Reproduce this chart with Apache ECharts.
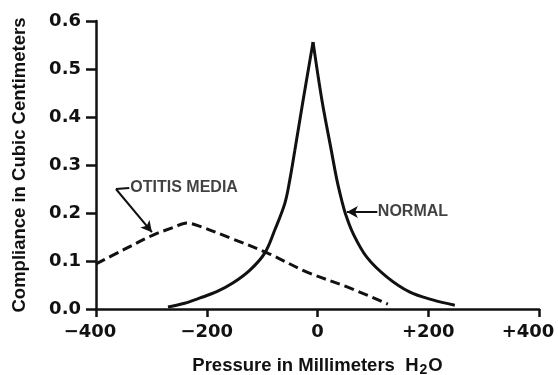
<!DOCTYPE html>
<html>
<head>
<meta charset="utf-8">
<script src="https://cdn.jsdelivr.net/npm/echarts@6/dist/echarts.min.js"></script>
<style>
html, body { margin: 0; padding: 0; background: #fff; }
#chartImg { width: 558px; height: 375px; }
</style>
</head>
<body>
<div id="chartImg"></div>
<script>
// pressure (mm H2O), compliance (cc)
var normalCurve = [
    [-270, 0.004], [-240, 0.012], [-212, 0.023], [-182, 0.036], [-153, 0.054],
    [-122, 0.081], [-95, 0.117], [-77, 0.165], [-59, 0.220], [-50, 0.269],
    [-41, 0.330], [-26, 0.435], [-8, 0.556],
    [8, 0.435], [25, 0.330], [35, 0.269], [44, 0.225], [50, 0.200],
    [64, 0.158], [89, 0.108], [125, 0.067], [167, 0.035], [208, 0.019], [248, 0.008]
];
var otitisCurve = [
    [-400, 0.094], [-351, 0.123], [-297, 0.154], [-260, 0.170], [-236, 0.179],
    [-212, 0.172], [-158, 0.148], [-91, 0.117], [-19, 0.077], [58, 0.044], [127, 0.010]
];
var peakIndex = 12;
var xTicks = [-400, -200, 0, 200, 400];
var yTicks = [0, 0.1, 0.2, 0.3, 0.4, 0.5, 0.6];
var labels = [[-338, 0.252, 'OTITIS MEDIA'], [109, 0.202, 'NORMAL']];
var otitisLeader = [[-364, 0.25], [-299, 0.16], [-340, 0.252]];
var normalArrow = [[108, 0.202], [53, 0.202]];

var ink = '#111';
var tickFont = { fontFamily: 'DejaVu Sans', fontWeight: 'bold', fontSize: 18, color: ink };
var titleFont = { fontFamily: 'Liberation Sans', fontWeight: 'bold', fontSize: 18.5, color: ink };

var myChart = echarts.init(document.getElementById('chartImg'));
var option = {
    animation: false,
    backgroundColor: '#fff',
    grid: { left: 96, right: 19, top: 21, bottom: 66, containLabel: false, outerBoundsMode: 'none' },
    xAxis: {
        type: 'value',
        min: xTicks[0],
        max: xTicks[xTicks.length - 1],
        interval: 200,
        name: '{t|Pressure in Millimeters  H}{s|2}{t|O}',
        nameLocation: 'middle',
        nameGap: 46,
        nameTextStyle: {
            rich: {
                t: titleFont,
                s: { fontFamily: 'Liberation Sans', fontWeight: 'bold', fontSize: 14, color: ink, padding: [8, 1, 0, 1] }
            }
        },
        axisLine: { onZero: false, lineStyle: { color: ink, width: 2.5 } },
        axisTick: { length: 8, lineStyle: { color: ink, width: 2.5 } },
        splitLine: { show: false },
        axisLabel: Object.assign({
            margin: 14,
            formatter: function (v) {
                if (v === xTicks[xTicks.length - 1]) return '{e|+' + v + '}';
                if (v === xTicks[0]) return '{b|\u2212' + (-v) + '}';
                if (v > 0) return '+' + v;
                if (v < 0) return '\u2212' + (-v);
                return '0';
            },
            rich: {
                e: Object.assign({ padding: [0, 22, 0, 0] }, tickFont),
                b: Object.assign({ padding: [0, 12, 0, 0] }, tickFont)
            }
        }, tickFont)
    },
    yAxis: {
        type: 'value',
        min: yTicks[0],
        max: yTicks[yTicks.length - 1],
        interval: 0.1,
        name: 'Compliance in Cubic Centimeters',
        nameLocation: 'middle',
        nameGap: 67,
        nameTextStyle: titleFont,
        axisLine: { show: true, onZero: false, lineStyle: { color: ink, width: 2.5 } },
        axisTick: { show: true, length: 10, lineStyle: { color: ink, width: 2.5 } },
        splitLine: { show: false },
        axisLabel: Object.assign({
            margin: 15,
            formatter: function (v) { return v.toFixed(1); }
        }, tickFont)
    },
    series: [
        {
            type: 'line',
            data: normalCurve.slice(0, peakIndex + 1),
            smooth: 0.35,
            symbol: 'none',
            lineStyle: { color: ink, width: 3 }
        },
        {
            type: 'line',
            data: normalCurve.slice(peakIndex),
            smooth: 0.35,
            symbol: 'none',
            lineStyle: { color: ink, width: 3 },
            markLine: {
                silent: true,
                symbolSize: [9, 11],
                label: { show: false },
                lineStyle: { color: ink, width: 2, type: 'solid' },
                data: [
                    [{ coord: normalArrow[0], symbol: 'none' }, { coord: normalArrow[1], symbol: 'arrow' }]
                ]
            }
        },
        {
            type: 'line',
            data: otitisCurve,
            smooth: 0.35,
            symbol: 'none',
            lineStyle: { color: ink, width: 3, type: [10, 5] },
            markLine: {
                silent: true,
                symbolSize: [9, 11],
                label: { show: false },
                lineStyle: { color: ink, width: 2, type: 'solid' },
                data: [
                    [{ coord: otitisLeader[0], symbol: 'none' }, { coord: otitisLeader[1], symbol: 'arrow' }],
                    [{ coord: otitisLeader[0], symbol: 'none' }, { coord: otitisLeader[2], symbol: 'none' }]
                ]
            }
        },
        {
            type: 'scatter',
            data: labels,
            symbolSize: 0,
            silent: true,
            label: {
                show: true,
                position: 'right',
                distance: 0,
                formatter: function (p) { return p.value[2]; },
                fontFamily: 'Liberation Sans',
                fontWeight: 'bold',
                fontSize: 16,
                color: ink
            }
        }
    ]
};
myChart.setOption(option);
</script>
</body>
</html>
